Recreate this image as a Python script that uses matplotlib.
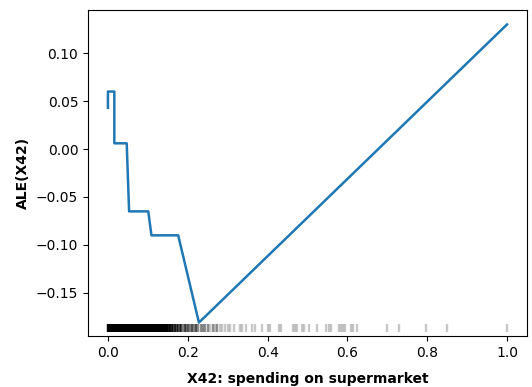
import numpy as np
import matplotlib
matplotlib.use("Agg")
import matplotlib.pyplot as plt

# ALE curve for feature X42 (grid points and accumulated effect)
ale_x = [0.000, 0.000, 0.016, 0.016, 0.047, 0.053, 0.101, 0.109, 0.176, 0.228, 1.000]
ale_y = [0.043, 0.060, 0.060, 0.006, 0.006, -0.065, -0.065, -0.090, -0.090, -0.181, 0.130]

# rug of observed feature values, with how often each one occurs
rug_x = [0.000, 0.004, 0.008, 0.012, 0.016, 0.020, 0.024, 0.028, 0.032, 0.036,
         0.040, 0.044, 0.048, 0.052, 0.056, 0.060, 0.064, 0.068, 0.072, 0.076,
         0.080, 0.084, 0.088, 0.092, 0.096, 0.100, 0.104, 0.108, 0.112, 0.116,
         0.120, 0.124, 0.128, 0.132, 0.136, 0.140, 0.144, 0.148,
         0.152, 0.156, 0.160, 0.164, 0.168, 0.172, 0.176, 0.180, 0.184, 0.188,
         0.192, 0.196, 0.200, 0.205, 0.210, 0.215, 0.220, 0.226, 0.232, 0.238,
         0.244, 0.250, 0.256, 0.262, 0.268, 0.274, 0.280, 0.287, 0.293, 0.300,
         0.307, 0.315, 0.330, 0.337, 0.345, 0.360, 0.368, 0.385, 0.400, 0.405,
         0.428, 0.434, 0.463, 0.468, 0.473, 0.485, 0.490, 0.505, 0.525, 0.547,
         0.555, 0.560, 0.580, 0.585, 0.590, 0.593, 0.610, 0.613, 0.625, 0.698,
         0.730, 0.798, 0.850, 1.000]
rug_n = [6, 6, 6, 6, 6, 6, 6, 6, 6, 6,
         6, 6, 6, 6, 6, 6, 6, 6, 6, 6,
         6, 6, 6, 6, 6, 6, 6, 6, 6, 6,
         6, 6, 6, 6, 6, 5, 5, 5,
         4, 4, 4, 3, 4, 3, 3, 3, 3, 2,
         3, 2, 3, 2, 3, 2, 3, 2, 2, 2,
         2, 2, 1, 2, 1, 2, 1, 1, 1, 1,
         1, 1, 1, 1, 1, 1, 1, 1, 1, 1,
         1, 1, 1, 1, 1, 1, 1, 1, 1, 1,
         1, 1, 1, 1, 1, 1, 1, 1, 1, 1,
         1, 1, 1, 1]

fig = plt.figure(figsize=(5.32, 3.87), dpi=100)
ax = fig.add_axes([0.1654, 0.1318, 0.8252, 0.8422])

ax.plot(ale_x, ale_y, color="#1f77b4", linewidth=1.8)

# rug marks, darker where values repeat
for x, n in zip(rug_x, rug_n):
    ax.plot([x], [-0.1866], marker="|", color="black", markersize=6,
            markeredgewidth=1.7, alpha=min(1.0, 0.22 * n), linestyle="none")

ax.set_xlim(-0.05, 1.05)
ax.set_ylim(-0.195, 0.145)
ax.set_xticks([0.0, 0.2, 0.4, 0.6, 0.8, 1.0])
ax.set_yticks([-0.15, -0.10, -0.05, 0.00, 0.05, 0.10])

ax.set_xlabel("X42: spending on supermarket", fontweight="bold", labelpad=9)
ax.set_ylabel("ALE(X42)", fontweight="bold")

fig.savefig("out.png", dpi=100)
